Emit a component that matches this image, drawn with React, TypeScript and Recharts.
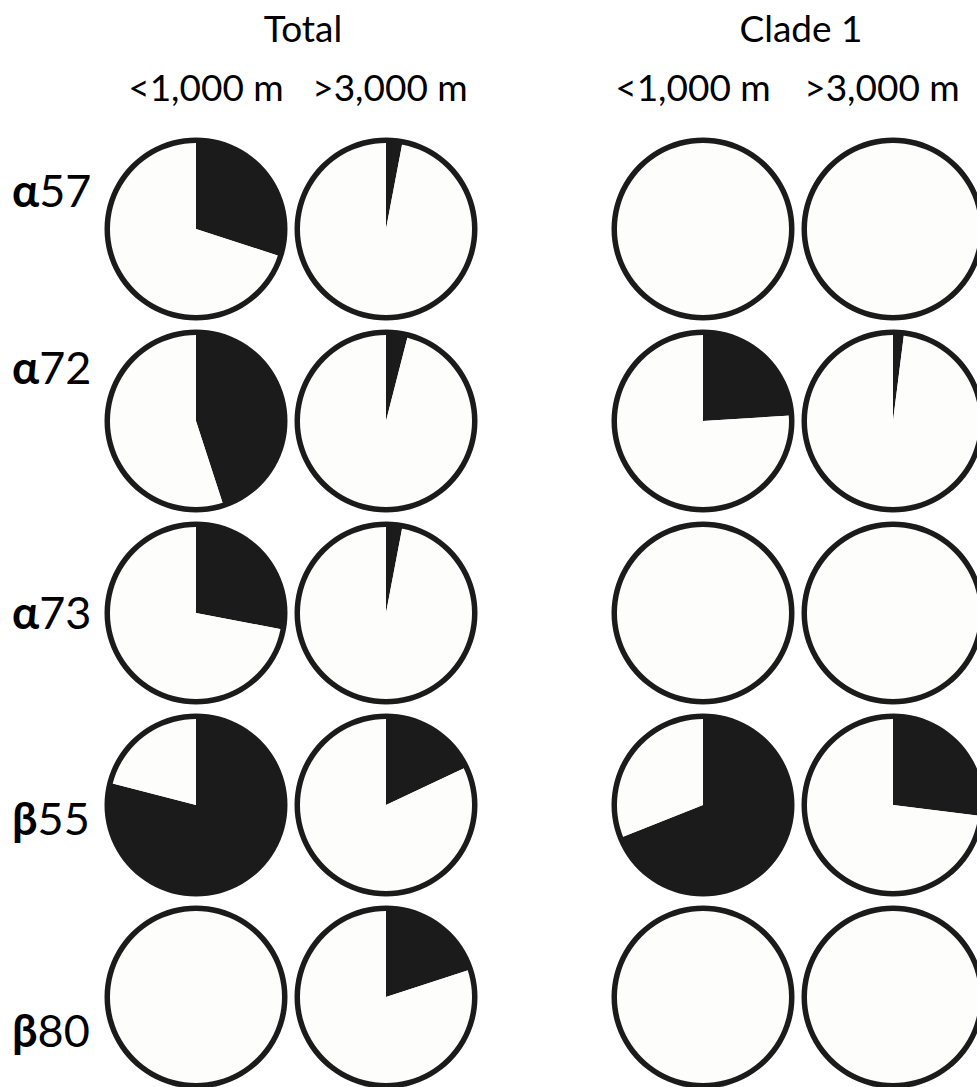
import { PieChart, Pie, Cell, Customized } from "recharts"

// share of positive samples per locus, rows top to bottom
const loci = ["57", "72", "73", "55", "80"]
const lociGreek = ["α", "α", "α", "β", "β"]

const groups = ["Total", "Clade 1"]
const depths = ["<1,000 m", ">3,000 m", "<1,000 m", ">3,000 m"]

const totalShallow = [0.3, 0.45, 0.28, 0.79, 0]
const totalDeep = [0.03, 0.04, 0.03, 0.18, 0.2]
const cladeShallow = [0, 0.24, 0, 0.69, 0]
const cladeDeep = [0, 0.02, 0, 0.27, 0]

const columns = [totalShallow, totalDeep, cladeShallow, cladeDeep]

const colX = [196, 386, 703, 893]
const rowY = [229, 421, 613, 805, 997]
const groupX = [303, 801]
const depthX = [206, 390, 693, 882]
const labelBaseline = [207, 384, 629, 835, 1047]

const DARK = "#1b1b1b"
const LIGHT = "#fdfdfb"
const FONT = "Lato, 'Open Sans', sans-serif"

function Labels() {
  return (
    <g fontFamily={FONT} fill="#000">
      {groups.map((g, i) => (
        <text key={g} x={groupX[i]} y={42} fontSize={37} textAnchor="middle">
          {g}
        </text>
      ))}
      {depths.map((d, i) => (
        <text key={i} x={depthX[i]} y={101} fontSize={37} textAnchor="middle">
          {d}
        </text>
      ))}
      {loci.map((n, i) => (
        <text key={n + i} x={12} y={labelBaseline[i]} fontSize={45}>
          <tspan fontWeight={700}>{lociGreek[i]}</tspan>
          {n}
        </text>
      ))}
    </g>
  )
}

export default function App() {
  const cells = columns.flatMap((vals, c) =>
    vals.map((v, r) => ({
      key: `${c}-${r}`,
      cx: colX[c],
      cy: rowY[r],
      data: [
        { name: "positive", value: v },
        { name: "negative", value: 1 - v },
      ],
    }))
  )

  return (
    <div style={{ position: "absolute", left: 0, top: 0, background: "#fff" }}>
      <PieChart width={977} height={1087} margin={{ top: 0, right: 0, bottom: 0, left: 0 }}>
        {cells.map((p) => (
          <Pie
            key={p.key}
            data={p.data}
            dataKey="value"
            cx={p.cx}
            cy={p.cy}
            innerRadius={0}
            outerRadius={88}
            startAngle={90}
            endAngle={-270}
            stroke="none"
            isAnimationActive={false}
          >
            <Cell fill={DARK} />
            <Cell fill={LIGHT} />
          </Pie>
        ))}
        {/* outline ring drawn over each pie */}
        {cells.map((p) => (
          <Pie
            key={"ring" + p.key}
            data={[{ name: "outline", value: 1 }]}
            dataKey="value"
            cx={p.cx}
            cy={p.cy}
            innerRadius={86}
            outerRadius={91.5}
            startAngle={90}
            endAngle={-270}
            fill={DARK}
            stroke="none"
            isAnimationActive={false}
          />
        ))}
        <Customized component={Labels} />
      </PieChart>
    </div>
  )
}
